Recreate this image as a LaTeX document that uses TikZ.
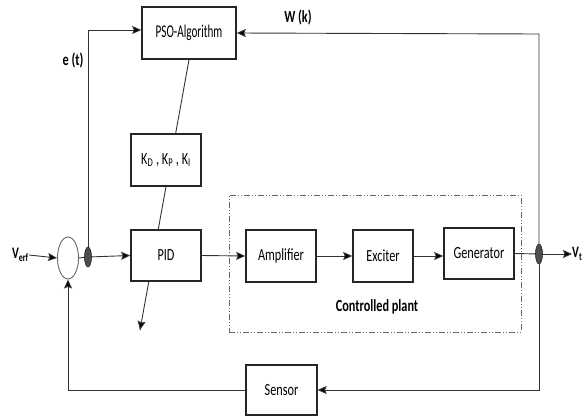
\documentclass[tikz,border=0pt]{standalone}
\usepackage{fontspec}
\setmainfont{Carlito}[FakeStretch=0.72]
\newfontfamily\narrowfont{Carlito}[FakeStretch=0.62]
\usetikzlibrary{arrows.meta,shapes.geometric,calc}
\pgfdeclarelayer{bg}
\pgfsetlayers{bg,main}
\begin{document}
\begin{tikzpicture}[x=1pt,y=-1pt,
  blk/.style={draw=black!85, line width=1.6pt, fill=white, inner sep=0pt, font=\fontsize{17}{20}\selectfont},
  conn/.style={draw=black!80, line width=0.9pt},
  arr/.style={conn,-{Stealth[length=9pt,width=8pt,inset=1.5pt,fill=black]}},
  jdot/.style={ellipse, fill=black!70, draw=black!85, line width=0.6pt, minimum width=7pt, minimum height=20pt, inner sep=0pt},
  lbl/.style={font=\fontsize{17}{20}\selectfont\bfseries, inner sep=0pt},
  vlbl/.style={font=\fontsize{16}{19}\selectfont\bfseries, inner sep=0pt},
  plantbox/.style={draw=black!60, line width=0.9pt, dash pattern=on 6pt off 2pt on 1pt off 2pt on 1pt off 2pt}]
\useasboundingbox (0,0) rectangle (582,416);

% blocks
\node[blk, minimum width=94pt, minimum height=52pt, font=\fontsize{18}{20}\narrowfont] (pso) at (189,33) {PSO-Algorithm};
\node[blk, minimum width=70pt, minimum height=52pt] (k) at (166,160) {K\textsubscript{D} , K\textsubscript{P} , K\textsubscript{I}};
\node[blk, minimum width=70pt, minimum height=51pt] (pid) at (166,255.5) {PID};
\node[plantbox, minimum width=292pt, minimum height=137pt, inner sep=0pt] (plant) at (375,263.5) {};
\node[blk, minimum width=70pt, minimum height=52pt] (amp) at (281,256) {Amplifier};
\node[blk, minimum width=60pt, minimum height=52pt] (exc) at (383,256) {Exciter};
\node[blk, minimum width=70pt, minimum height=51pt] (gen) at (479,253.5) {Generator};
\node[blk, line width=1.2pt, minimum width=71pt, minimum height=50pt] (sensor) at (281.5,390) {Sensor};
\node[lbl] (cp) at (377,307) {Controlled plant};

% sum and junctions
\node[ellipse, draw=black!60, line width=0.9pt, fill=white, minimum width=21pt, minimum height=42pt, inner sep=0pt] (sum) at (68,258) {};
\node[jdot] (j1) at (88,257) {};
\node[jdot] (j2) at (539,254) {};
\coordinate (tr) at (539,34);
\coordinate (ktip) at (140,330);

% labels
\node[vlbl, anchor=east] (verf) at (29,255) {V\textsubscript{erf}};
\node[vlbl, anchor=west] (vt) at (572,254) {V\textsubscript{t}};
\node[lbl] (et) at (73,60) {e (t)};
\node[lbl] (wk) at (298,17) {W (k)};

% connectors
\begin{pgfonlayer}{bg}
\draw[conn] (pso.south) -- (ktip);
\draw[arr] ($(pso.south)!0.98!(ktip)$) -- (ktip);
\draw[arr] (verf.east) -- (sum.west);
\draw[conn] (sum.east) -- (j1.center);
\draw[arr] (j1.center) -- (pid.west);
\draw[arr] (j1.center) |- ([yshift=3pt]pso.west);
\draw[arr] (pid.east) -- (amp.west);
\draw[arr] (amp.east) -- (exc.west);
\draw[arr] (exc.east) -- (exc.east -| gen.west);
\draw[conn] (gen.east) -- (j2.center);
\draw[arr] (j2.center) -- (vt.west);
\draw[arr] (j2.center) -- (tr) -- (pso.east);
\draw[arr] (j2.center) |- (sensor.east);
\draw[arr] (sensor.west) -| (sum.south);
\end{pgfonlayer}
\end{tikzpicture}
\end{document}
